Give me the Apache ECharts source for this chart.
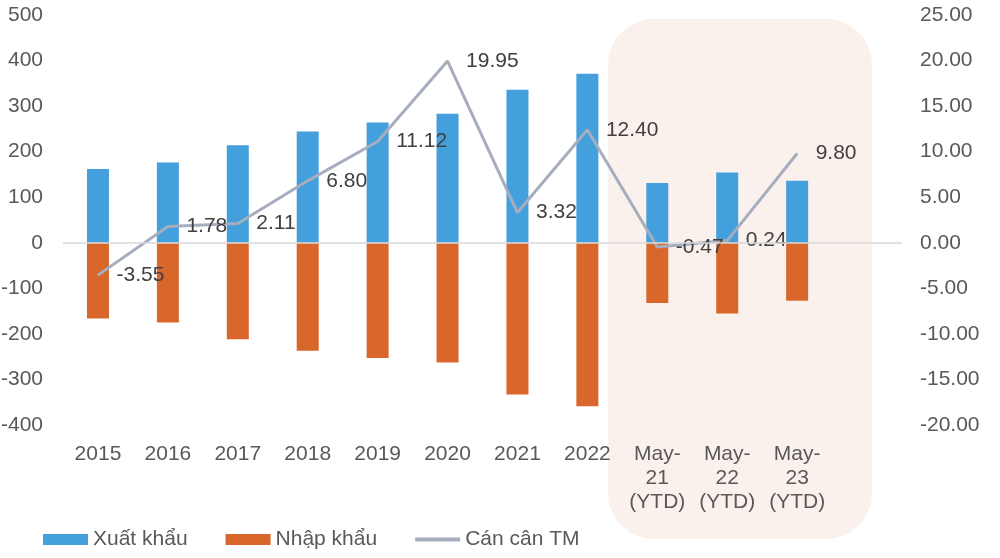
<!DOCTYPE html>
<html>
<head>
<meta charset="utf-8">
<script src="https://cdn.jsdelivr.net/npm/echarts@6/dist/echarts.min.js"></script>
<style>
  html, body { margin: 0; padding: 0; background: #fff; }
  #chart { width: 1000px; height: 558px; }
</style>
</head>
<body>
<div id="chart"></div>
<script>
// categories (last one left empty, as in the original plot area)
const categories = ['2015', '2016', '2017', '2018', '2019', '2020', '2021', '2022',
    'May-\n21\n(YTD)', 'May-\n22\n(YTD)', 'May-\n23\n(YTD)', ''];
const exportValues = [162, 176, 214, 244, 264, 283, 336, 371, 131, 154, 136, null];
const importValues = [-166, -175, -212, -237, -253, -263, -333, -359, -132, -155, -127, null];
const balanceValues = [-3.55, 1.78, 2.11, 6.80, 11.12, 19.95, 3.32, 12.40, -0.47, 0.24, 9.80, null];

const FONT = "'Liberation Sans', Arial, sans-serif";
const TXT = '#595959';
const FS = 21;

const chart = echarts.init(document.getElementById('chart'));
chart.setOption({
    animation: false,
    textStyle: { fontFamily: FONT },
    grid: { left: 63, right: 98, top: 15, bottom: 133, outerBoundsMode: 'none' },
    graphic: [{
        type: 'rect',
        z: -10,
        shape: { x: 608, y: 19, width: 264, height: 520, r: 46 },
        style: { fill: '#FBF1EC' }
    }],
    legend: {
        bottom: 3,
        left: 38,
        itemWidth: 45,
        itemHeight: 11,
        itemGap: 38,
        textStyle: { fontSize: FS, color: TXT, fontFamily: FONT },
        data: [
            { name: 'Xuất khẩu', icon: 'rect' },
            { name: 'Nhập khẩu', icon: 'rect' },
            { name: 'Cán cân TM', icon: 'path://M0,0 H45 V4 H0 Z' }
        ]
    },
    xAxis: {
        type: 'category',
        data: categories,
        axisLine: { show: false },
        axisTick: { show: false },
        axisLabel: { color: TXT, fontSize: FS, margin: 17, lineHeight: 24, interval: 0 }
    },
    yAxis: [{
        type: 'value',
        min: -400, max: 500, interval: 100,
        splitLine: { show: false },
        axisLabel: { color: TXT, fontSize: FS, margin: 20 }
    }, {
        type: 'value',
        min: -20, max: 25, interval: 5,
        splitLine: { show: false },
        axisLabel: { color: TXT, fontSize: FS, margin: 18, formatter: v => v.toFixed(2) }
    }],
    series: [{
        name: 'Xuất khẩu',
        type: 'bar',
        barWidth: 22,
        barGap: '-100%',
        itemStyle: { color: '#449FDD' },
        data: exportValues,
        markLine: {
            silent: true,
            symbol: 'none',
            label: { show: false },
            lineStyle: { color: '#D9D9D9', type: 'solid', width: 1.5 },
            data: [{ yAxis: 0 }]
        }
    }, {
        name: 'Nhập khẩu',
        type: 'bar',
        barWidth: 22,
        barGap: '-100%',
        itemStyle: { color: '#D9672B' },
        data: importValues
    }, {
        name: 'Cán cân TM',
        type: 'line',
        yAxisIndex: 1,
        symbol: 'circle',
        symbolSize: 1,
        showSymbol: true,
        lineStyle: { color: '#A6ADBE', width: 3 },
        itemStyle: { color: '#A6ADBE' },
        label: {
            show: true,
            position: 'right',
            distance: 18,
            fontSize: FS,
            color: '#404040',
            formatter: p => p.value.toFixed(2)
        },
        data: balanceValues
    }]
});
</script>
</body>
</html>
